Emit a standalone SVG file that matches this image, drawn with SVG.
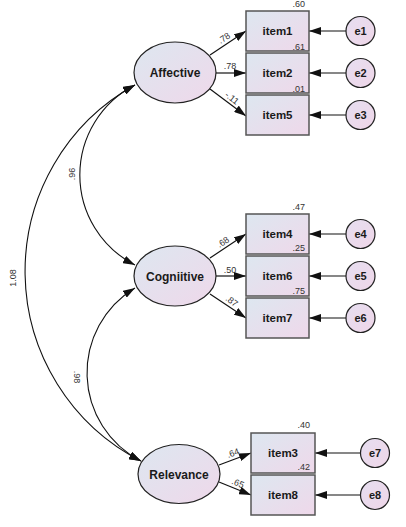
<svg xmlns="http://www.w3.org/2000/svg" width="406" height="527" viewBox="0 0 406 527">
<style>
.lat{fill:url(#g);stroke:#222;stroke-width:1.2}
.box{fill:url(#g);stroke:#555;stroke-width:1.5}
.err{fill:url(#g2);stroke:#222;stroke-width:1.2}
.lt{font-family:"Liberation Sans",Arial,sans-serif;font-weight:bold;font-size:12px;fill:#1a1a1a;text-anchor:middle}
.it{font-family:"Liberation Sans",Arial,sans-serif;font-weight:bold;font-size:11.5px;fill:#1a1a1a;text-anchor:middle}
.et{font-family:"Liberation Sans",Arial,sans-serif;font-weight:bold;font-size:11px;fill:#1a1a1a;text-anchor:middle}
.n{font-family:"Liberation Sans",Arial,sans-serif;font-size:9px;fill:#333}
.ne{text-anchor:end}
.nm{text-anchor:middle}
.ar{fill:none;stroke:#111;stroke-width:1.2;marker-end:url(#ah)}
.cv{fill:none;stroke:#111;stroke-width:1.1;marker-start:url(#ah);marker-end:url(#ah)}
</style>
<defs>
<linearGradient id="g" x1="0" y1="0" x2="1" y2="1">
<stop offset="0" stop-color="#dde7f0"/>
<stop offset="1" stop-color="#efd8ea"/>
</linearGradient>
<linearGradient id="g2" x1="0" y1="0" x2="1" y2="1">
<stop offset="0" stop-color="#e6def0"/>
<stop offset="1" stop-color="#efd6e8"/>
</linearGradient>
<marker id="ah" viewBox="0 0 12 8" refX="12" refY="4" markerWidth="12" markerHeight="8" markerUnits="userSpaceOnUse" orient="auto-start-reverse">
<path d="M0,0 L12,4 L0,8 z" fill="#111"/>
</marker>
</defs>

<g id="connectors">
<line class="ar" x1="346" y1="31" x2="309" y2="31"/>
<line class="ar" x1="346" y1="73" x2="309" y2="73"/>
<line class="ar" x1="346" y1="115" x2="309" y2="115"/>
<line class="ar" x1="346" y1="234" x2="309" y2="234"/>
<line class="ar" x1="346" y1="276" x2="309" y2="276"/>
<line class="ar" x1="346" y1="318" x2="309" y2="318"/>
<line class="ar" x1="360.5" y1="453" x2="315" y2="453"/>
<line class="ar" x1="360.5" y1="495" x2="315" y2="495"/>
<line class="ar" x1="210" y1="55" x2="246" y2="31"/>
<line class="ar" x1="216" y1="73" x2="246" y2="73"/>
<line class="ar" x1="210" y1="89" x2="246" y2="116"/>
<line class="ar" x1="210" y1="258" x2="246" y2="234"/>
<line class="ar" x1="216" y1="276" x2="246" y2="276"/>
<line class="ar" x1="210" y1="294" x2="246" y2="318"/>
<line class="ar" x1="219" y1="465" x2="251" y2="453"/>
<line class="ar" x1="219" y1="482" x2="251" y2="495"/>
<path class="cv" d="M135,85 A101,101 0 0 0 135,265"/>
<path class="cv" d="M135,288 A99,99 0 0 0 141,461"/>
<path class="cv" d="M135,85 A213,213 0 0 0 141,461"/>
<text class="n nm" transform="translate(224,38) rotate(-34)" dy="0.35em">.78</text>
<text class="n nm" x="230" y="69">.78</text>
<text class="n nm" transform="translate(232,98) rotate(37)" dy="0.35em">-.11</text>
<text class="n nm" transform="translate(223,242) rotate(-34)" dy="0.35em">.68</text>
<text class="n nm" x="230" y="273">.50</text>
<text class="n nm" transform="translate(232,301) rotate(37)" dy="0.35em">.87</text>
<text class="n nm" transform="translate(233,453) rotate(-20)" dy="0.35em">.64</text>
<text class="n nm" transform="translate(238,483) rotate(22)" dy="0.35em">.65</text>
<text class="n nm" transform="translate(72,174) rotate(-90)" dy="0.35em">.96</text>
<text class="n nm" transform="translate(13,278) rotate(-90)" dy="0.35em">1.08</text>
<text class="n nm" transform="translate(77,377) rotate(90)" dy="0.35em">.98</text>
</g>

<g id="Affective">
<ellipse class="lat" cx="175" cy="72.5" rx="41" ry="30.5"/>
<text class="lt" x="175" y="77">Affective</text>
</g>
<g id="Cognitive">
<ellipse class="lat" cx="175" cy="276" rx="41" ry="30"/>
<text class="lt" x="175" y="280.5">Cogniitive</text>
</g>
<g id="Relevance">
<ellipse class="lat" cx="179" cy="474" rx="41" ry="29.5"/>
<text class="lt" x="179" y="478.5">Relevance</text>
</g>

<g id="item1">
<rect class="box" x="246" y="11" width="63" height="40"/>
<text class="it" x="277.5" y="35">item1</text>
<text class="n ne" x="305" y="7">.60</text>
<text class="n ne" x="305" y="49.5">.61</text>
</g>
<g id="item2">
<rect class="box" x="246" y="53" width="63" height="40"/>
<text class="it" x="277.5" y="77">item2</text>
<text class="n ne" x="305" y="91.5">.01</text>
</g>
<g id="item5">
<rect class="box" x="246" y="95" width="63" height="40"/>
<text class="it" x="277.5" y="119">item5</text>
</g>
<g id="item4">
<rect class="box" x="246" y="214" width="63" height="40"/>
<text class="it" x="277.5" y="238">item4</text>
<text class="n ne" x="305" y="210">.47</text>
<text class="n ne" x="305" y="251">.25</text>
</g>
<g id="item6">
<rect class="box" x="246" y="256" width="63" height="40"/>
<text class="it" x="277.5" y="280">item6</text>
<text class="n ne" x="305" y="294">.75</text>
</g>
<g id="item7">
<rect class="box" x="246" y="298" width="63" height="40"/>
<text class="it" x="277.5" y="322">item7</text>
</g>
<g id="item3">
<rect class="box" x="251" y="433" width="64" height="40"/>
<text class="it" x="283" y="457">item3</text>
<text class="n ne" x="310" y="428">.40</text>
<text class="n ne" x="310" y="470">.42</text>
</g>
<g id="item8">
<rect class="box" x="251" y="475" width="64" height="40"/>
<text class="it" x="283" y="499">item8</text>
</g>

<g id="e1"><circle class="err" cx="360.5" cy="31" r="14.5"/><text class="et" x="360.5" y="35">e1</text></g>
<g id="e2"><circle class="err" cx="360.5" cy="73" r="14.5"/><text class="et" x="360.5" y="77">e2</text></g>
<g id="e3"><circle class="err" cx="360.5" cy="115" r="14.5"/><text class="et" x="360.5" y="119">e3</text></g>
<g id="e4"><circle class="err" cx="360.5" cy="234" r="14.5"/><text class="et" x="360.5" y="238">e4</text></g>
<g id="e5"><circle class="err" cx="360.5" cy="276" r="14.5"/><text class="et" x="360.5" y="280">e5</text></g>
<g id="e6"><circle class="err" cx="360.5" cy="318" r="14.5"/><text class="et" x="360.5" y="322">e6</text></g>
<g id="e7"><circle class="err" cx="375" cy="453" r="14.5"/><text class="et" x="375" y="457">e7</text></g>
<g id="e8"><circle class="err" cx="375" cy="495" r="14.5"/><text class="et" x="375" y="499">e8</text></g>
</svg>
